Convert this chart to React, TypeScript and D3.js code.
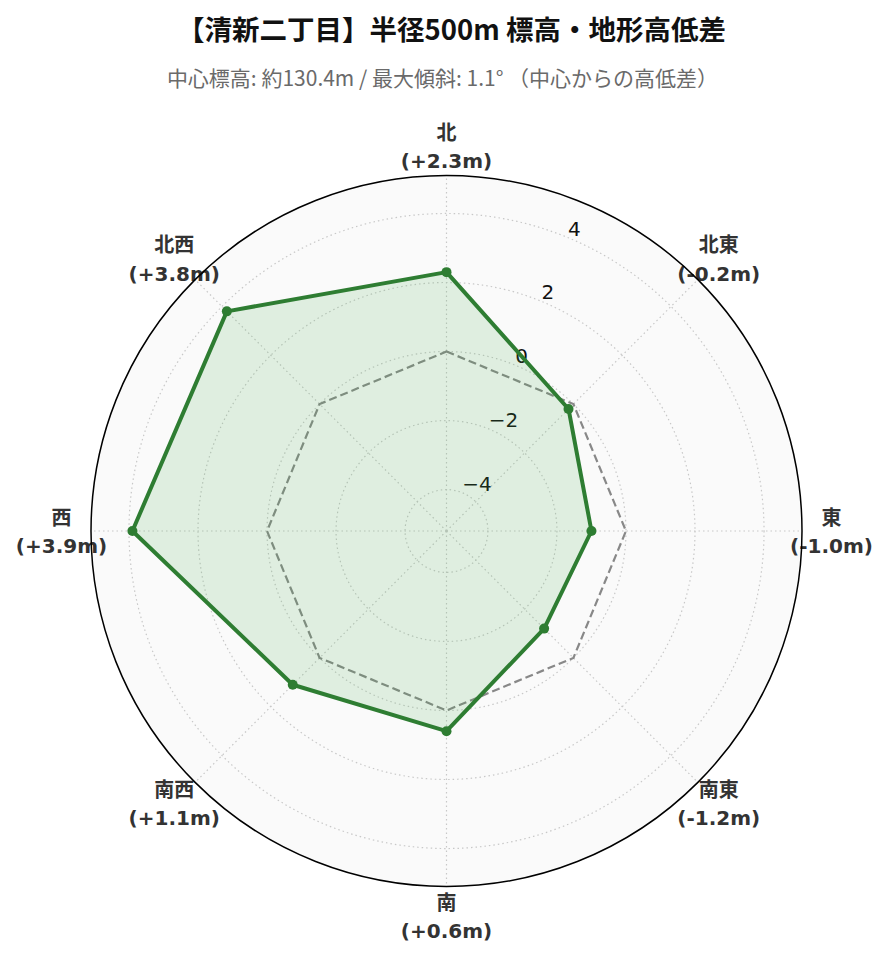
import * as d3 from "d3";

const directions = ["北", "北東", "東", "南東", "南", "南西", "西", "北西"];
const diffs = [2.3, -0.2, -1.0, -1.2, 0.6, 1.1, 3.9, 3.8];
const diffLabels = ["(+2.3m)", "(-0.2m)", "(-1.0m)", "(-1.2m)", "(+0.6m)", "(+1.1m)", "(+3.9m)", "(+3.8m)"];
const rTicks = [-4, -2, 0, 2, 4];
const rTickLabels = ["−4", "−2", "0", "2", "4"];

const title = "【清新二丁目】半径500m 標高・地形高低差";
const subtitle = "中心標高: 約130.4m / 最大傾斜: 1.1° （中心からの高低差）";

export default function App() {
  const width = 889;
  const height = 962;
  const cx = 446.5;
  const cy = 531;
  const outerR = 355.5;

  const rScale = d3.scaleLinear().domain([-5.2, 5.1]).range([0, outerR]);
  const angle = d3
    .scalePoint<string>()
    .domain(directions)
    .range([0, (2 * Math.PI * (directions.length - 1)) / directions.length]);

  // polar -> cartesian, angle measured clockwise from north
  const pt = (a: number, r: number): [number, number] => [
    Math.sin(a) * r,
    -Math.cos(a) * r,
  ];

  const radar = d3
    .lineRadial<number>()
    .angle((_, i) => angle(directions[i])!)
    .radius((d) => rScale(d))
    .curve(d3.curveLinearClosed);

  const zeroLine = radar(directions.map(() => 0))!;
  const dataLine = radar(diffs)!;

  const font = "'DejaVu Sans', 'Noto Sans CJK JP', sans-serif";
  const cjk = "'Noto Sans CJK JP', 'DejaVu Sans', sans-serif";
  const labelAngle = (22.5 * Math.PI) / 180;

  return (
    <svg
      width={width}
      height={height}
      style={{ position: "absolute", left: 0, top: 0, background: "#fff" }}
    >
      <text
        x={cx + 5}
        y={28}
        textAnchor="middle"
        dominantBaseline="central"
        fontFamily={cjk}
        fontWeight="bold"
        fontSize={27.5}
        fill="#111"
      >
        {title}
      </text>
      <text
        x={cx - 4}
        y={77}
        textAnchor="middle"
        dominantBaseline="central"
        fontFamily={cjk}
        fontSize={21}
        fill="#6a6a6a"
      >
        {subtitle}
      </text>

      <g transform={`translate(${cx},${cy})`}>
        <circle r={outerR} fill="#fafafa" />

        {/* grid */}
        <g stroke="#c8c8c8" strokeWidth={1.2} strokeDasharray="1.5 3" fill="none">
          {rTicks.map((t) => (
            <circle key={t} r={rScale(t)} />
          ))}
          {directions.map((d) => {
            const [x, y] = pt(angle(d)!, outerR);
            return <line key={d} x1={0} y1={0} x2={x} y2={y} />;
          })}
        </g>

        {/* radial tick labels */}
        <g fontFamily={font} fontSize={20} fill="#111">
          {rTicks.map((t, i) => {
            const [x, y] = pt(labelAngle, rScale(t));
            return (
              <text key={t} x={x} y={y - 2}>
                {rTickLabels[i]}
              </text>
            );
          })}
        </g>

        {/* zero reference */}
        <path d={zeroLine} fill="none" stroke="#888" strokeWidth={2.2} strokeDasharray="8 4" />

        {/* data */}
        <path d={dataLine} fill="#4caf50" fillOpacity={0.15} stroke="none" />
        <path d={dataLine} fill="none" stroke="#2e7d32" strokeWidth={4} strokeLinejoin="round" />
        {diffs.map((v, i) => {
          const [x, y] = pt(angle(directions[i])!, rScale(v));
          return <circle key={i} cx={x} cy={y} r={5} fill="#2e7d32" />;
        })}

        {/* direction labels */}
        <g fontFamily={font} fontWeight="bold" fontSize={20} fill="#333" textAnchor="middle">
          {directions.map((d, i) => {
            const [x, y] = pt(angle(d)!, 385);
            return (
              <g key={d}>
                <text x={x} y={y - 15} dominantBaseline="central" fontFamily={cjk}>
                  {d}
                </text>
                <text x={x} y={y + 15} dominantBaseline="central">
                  {diffLabels[i]}
                </text>
              </g>
            );
          })}
        </g>

        <circle r={outerR} fill="none" stroke="#000" strokeWidth={1.5} />
      </g>
    </svg>
  );
}
